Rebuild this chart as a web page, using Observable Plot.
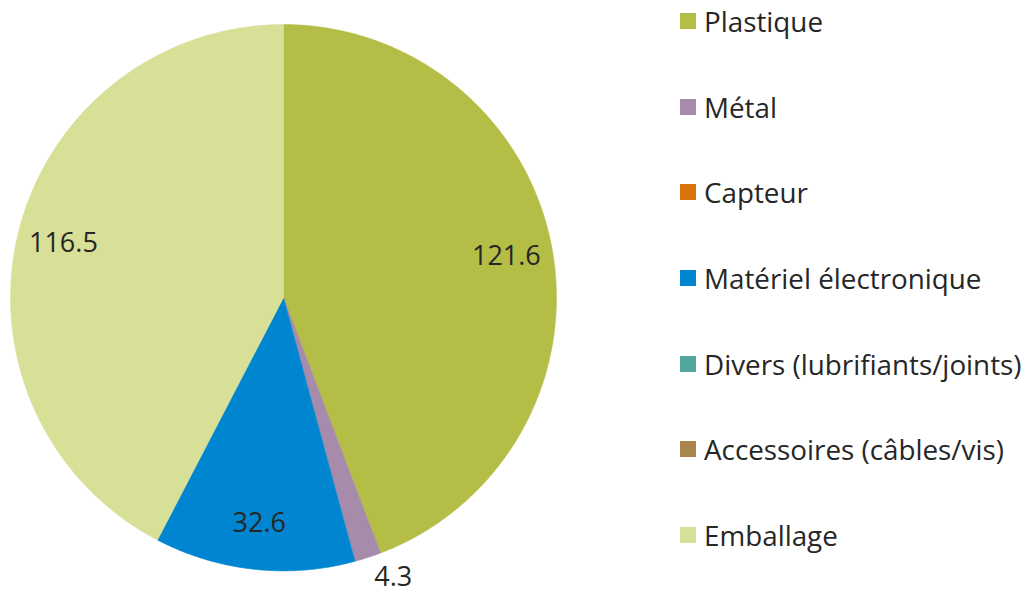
<!DOCTYPE html>
<html>
<head>
<meta charset="utf-8">
<script src="https://cdn.jsdelivr.net/npm/d3@7"></script>
<script src="https://cdn.jsdelivr.net/npm/@observablehq/plot@0.6"></script>
<style>
  html, body { margin: 0; padding: 0; background: #fff; }
  #wrap { position: relative; width: 1024px; height: 595px; overflow: hidden; }
  #legend { position: absolute; left: 680px; top: 0; font-family: "Open Sans", sans-serif; font-size: 27.8px; color: #262626; }
  .item { position: absolute; left: 0; white-space: nowrap; display: flex; align-items: center; height: 40px; }
  .sw { width: 16px; height: 16px; margin-right: 8px; }
</style>
</head>
<body>
<div id="wrap"><div id="chart"></div><div id="legend"></div></div>
<script>
const categories = ["Plastique", "Métal", "Capteur", "Matériel électronique", "Divers (lubrifiants/joints)", "Accessoires (câbles/vis)", "Emballage"];
const values = [121.6, 4.3, 0, 32.6, 0, 0, 116.5];
const colors = ["#b4bd46", "#a78bab", "#d9730d", "#0086d0", "#4ea99a", "#a8844e", "#d7e096"];

const total = d3.sum(values);
const pie = d3.pie().sort(null).value(d => d)(values);

// slice polygons in unit-circle coordinates (angle measured clockwise from top)
const polys = [];
pie.forEach((p, i) => {
  if (values[i] <= 0) return;
  const n = Math.max(2, Math.ceil((p.endAngle - p.startAngle) / 0.005));
  polys.push({cat: categories[i], x: 0, y: 0});
  for (let k = 0; k <= n; k++) {
    const a = p.startAngle + (p.endAngle - p.startAngle) * k / n;
    polys.push({cat: categories[i], x: Math.sin(a), y: Math.cos(a)});
  }
  polys.push({cat: categories[i], x: 0, y: 0});
});

const labels = pie.map((p, i) => {
  const a = (p.startAngle + p.endAngle) / 2;
  const outside = values[i] / total < 0.05;
  const r = outside ? 1.075 : 0.83;
  return {cat: categories[i], v: values[i], x: r * Math.sin(a), y: r * Math.cos(a),
          anchor: outside ? (Math.sin(a) >= 0 ? "start" : "end") : "middle"};
}).filter(d => d.v > 0);

const chart = Plot.plot({
  width: 1024,
  height: 595,
  marginLeft: 10,
  marginRight: 468,
  marginTop: 24,
  marginBottom: 0,
  x: {domain: [-1, 1], axis: null},
  y: {domain: [-1.09, 1], axis: null},
  color: {domain: categories, range: colors},
  style: {background: "#fff", fontFamily: "'Open Sans', sans-serif"},
  marks: [
    Plot.line(polys, {x: "x", y: "y", z: "cat", fill: "cat", stroke: "cat", strokeWidth: 0.5, curve: "linear"}),
    Plot.text(labels.filter(d => d.anchor === "middle"), {x: "x", y: "y", text: d => d.v.toFixed(1), fontSize: 27, fill: "#262626"}),
    Plot.text(labels.filter(d => d.anchor === "start"), {x: "x", y: "y", text: d => d.v.toFixed(1), fontSize: 27, fill: "#262626", textAnchor: "start"}),
    Plot.text(labels.filter(d => d.anchor === "end"), {x: "x", y: "y", text: d => d.v.toFixed(1), fontSize: 27, fill: "#262626", textAnchor: "end"})
  ]
});
document.getElementById("chart").appendChild(chart);

const legend = d3.select("#legend");
categories.forEach((c, i) => {
  const it = legend.append("div").attr("class", "item").style("top", (1 + i * 85.67) + "px");
  it.append("div").attr("class", "sw").style("background", colors[i]);
  it.append("span").text(c);
});
</script>
</body>
</html>
